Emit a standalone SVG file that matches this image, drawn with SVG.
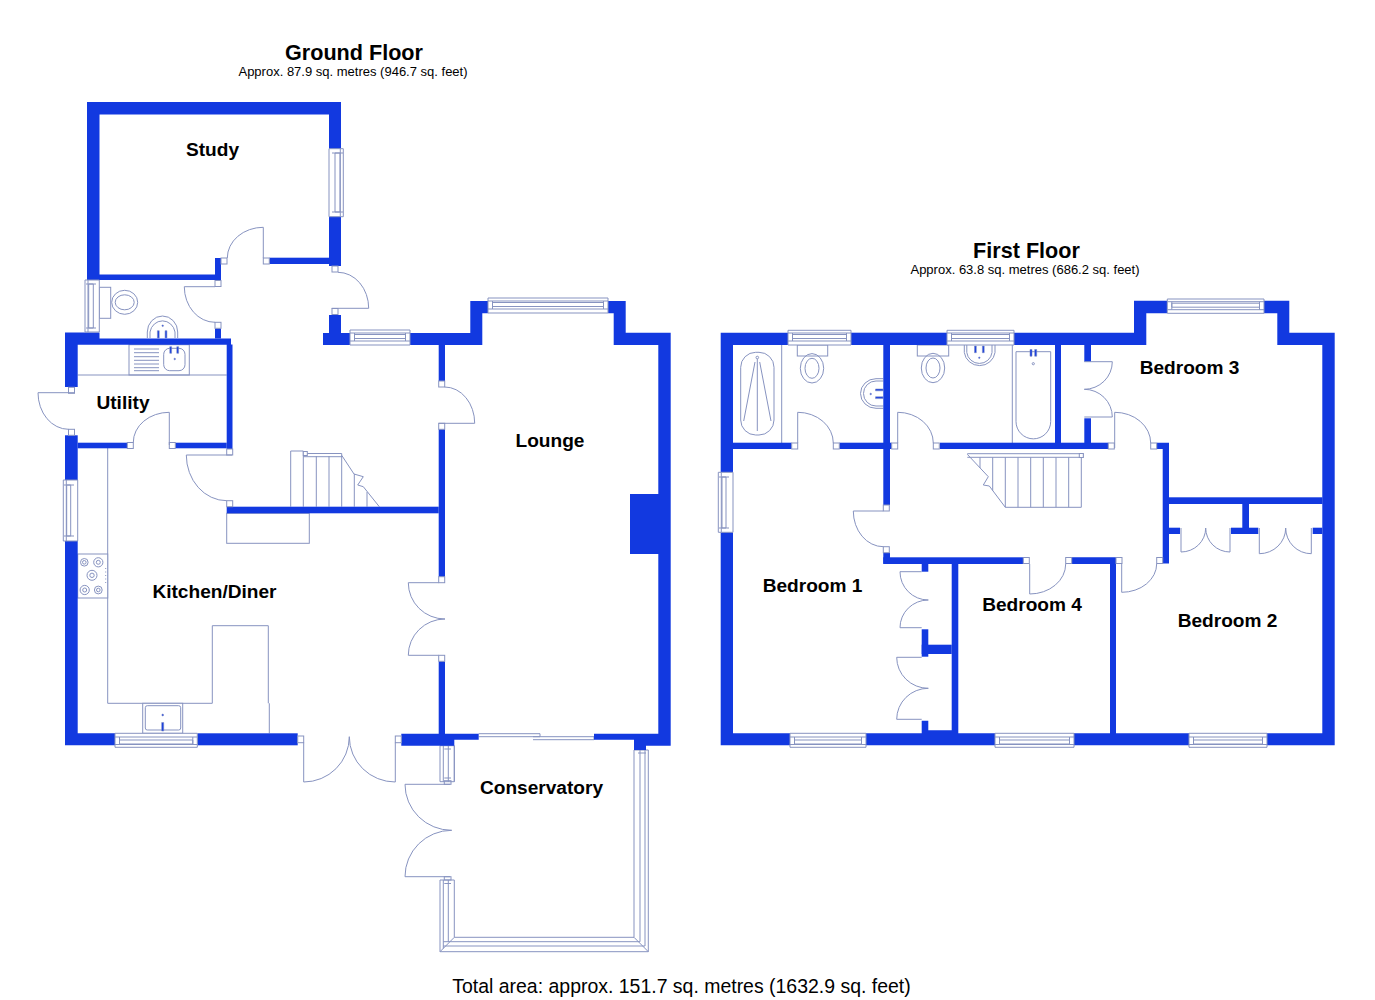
<svg xmlns="http://www.w3.org/2000/svg" width="1375" height="1000" viewBox="0 0 1375 1000">
<style>
.w{fill:#1239e0;stroke:none}
.l{fill:none;stroke:#8793c0;stroke-width:1}
.f{fill:#fff;stroke:#8793c0;stroke-width:1}
.t{fill:#1239e0;stroke:#7f8dc4;stroke-width:.6}
text{font-family:"Liberation Sans",Arial,sans-serif;fill:#000}
.r{font-size:19.1px;font-weight:bold;text-anchor:middle}
.h{font-size:21.6px;font-weight:bold;text-anchor:middle}
.s{font-size:13px;text-anchor:middle}
</style>
<rect width="1375" height="1000" fill="#fff"/>
<g id="ground-floor">
<g id="ground-fittings">
<path class="l" d="M107.7 448V703.3H212.3V625.7H268.3V703.3M269.3 703.3V733.3"/>
<rect class="f" x="77.7" y="554" width="30" height="44"/>
<g class="l"><circle cx="84.3" cy="562.3" r="3.8"/><circle cx="84.3" cy="562.3" r="1.8"/><circle cx="98.3" cy="562.3" r="4.6"/><circle cx="98.3" cy="562.3" r="2"/><circle cx="92" cy="575.3" r="5"/><circle cx="92" cy="575.3" r="2.2"/><circle cx="84.7" cy="590" r="4.6"/><circle cx="84.7" cy="590" r="2"/><circle cx="98.3" cy="590" r="3.9"/><circle cx="98.3" cy="590" r="1.8"/></g>
<path class="l" stroke-dasharray="1 2.5" d="M105.7 568V584"/>
<rect class="f" x="142.7" y="703.3" width="40" height="30"/>
<rect class="l" x="145.3" y="705.7" width="35.4" height="24.3" rx="2"/>
<circle class="t" cx="162.7" cy="715" r=".9"/>
<path class="t" d="M161.7 722.5H163.7V731H161.7Z"/>
<path class="l" d="M77.7 375H226.7"/>
<rect class="l" x="129" y="344.7" width="60.3" height="30.3"/>
<path class="l" d="M134 349H159M134 352.7H159M134 356.7H159M134 360.3H159M134 364H159M134 367.7H159M134 370.7H159"/>
<rect class="l" x="163.7" y="348.3" width="21.3" height="22.4" rx="6"/>
<path class="t" d="M169.8 346.7h1.8v6.6h-1.8zM176.8 346.7h1.8v6.6h-1.8z"/>
<circle class="t" cx="174.7" cy="359" r=".8"/>
<rect class="f" x="99.3" y="287.3" width="11.4" height="31"/>
<ellipse class="l" cx="124.7" cy="302.3" rx="13" ry="12"/>
<ellipse class="l" cx="124.7" cy="302.3" rx="9.5" ry="7.5"/>
<path class="l" d="M147.3 338V332A15.2 16 0 0 1 177.7 332V338M150 338V332A12.7 13.5 0 0 1 175 332V338"/>
<path class="t" d="M157.4 330.7h1.8v7.3h-1.8zM165.1 330.7h1.8v7.3h-1.8z"/>
<circle class="t" cx="162.7" cy="325.7" r=".8"/>
<path class="l" d="M290.7 506.7V451H303.3V506.7M316.3 456V506.7M329 456V506.7M341.7 456V506.7M354.3 474V506.7M367 492V506.7M303.3 453.5H341.7V456.7H303.3M341.7 455.3L354 474L363.3 476.7L357.7 485L363.3 486.7L379.3 506.7"/>
<rect class="f" x="303.3" y="451.5" width="4" height="4"/>
<rect class="l" x="226.7" y="513.3" width="82.6" height="30"/>
<path class="l" d="M454.3 745.7V781.7M440 745.7H454.3V781.7H440ZM443.3 745.7V781.7M448.3 745.7V781.7M444.3 749H451M444.3 778H451"/>
<rect class="l" x="444.3" y="780.7" width="6.7" height="3.6"/>
<rect class="l" x="444.3" y="876.7" width="6.7" height="3.3"/>
<path class="l" d="M440 880H454.3V937.3H634V750M648.3 750V951.7H440V880M443.3 880V948.5M448.3 880V942M444.3 883.5H451M634 750H648.3M640 750V941.7M645 750V946M443.3 941.7H640M443.3 946H645M440 951.7L454.3 937.3M648.3 951.7L634 937.3M638 753H646"/>
<path class="l" d="M478.7 733.7H540V736.7H478.7M533 736.7H594V739.7H533"/>
</g>
<g id="ground-walls">
<path class="w" d="M87 102H341V266H329V114.5H99.5V274.5H215V258H221V280H87Z"/>
<rect class="w" x="269.3" y="257.7" width="59.7" height="6.3"/>
<rect class="w" x="215" y="328.5" width="6" height="10"/>
<path class="w" d="M65 332.5H99.5V338.5H231V344.5H232.5V449H226.7V344.7H77.7V387H65Z"/>
<path class="w" d="M329 315H341V333H350V345H323V333H329Z"/>
<path class="w" d="M410 333H470.3V301H488.3V313.3H482.3V345H410Z"/>
<path class="w" d="M608 301H625.7V332.7H670.7V745.7H646V750H634V739.7H594V733.7H658.3V345H613.7V313.3H608Z"/>
<rect class="w" x="630" y="494" width="29" height="60"/>
<rect class="w" x="438.7" y="345" width="6.3" height="36"/>
<rect class="w" x="438.7" y="429" width="6.3" height="148"/>
<rect class="w" x="438.7" y="661.3" width="6.3" height="73"/>
<rect class="w" x="226.7" y="506.7" width="212" height="6.6"/>
<rect class="w" x="65" y="435.3" width="12.7" height="44.7"/>
<rect class="w" x="77.7" y="442.7" width="49.6" height="5.6"/>
<rect class="w" x="175.3" y="442.7" width="51.4" height="5.6"/>
<path class="w" d="M65 541H77.7V733.3H115V745.3H65Z"/>
<rect class="w" x="197.3" y="733.3" width="100.4" height="12"/>
<path class="w" d="M401.3 733.7H478.7V739.7H454.3V745.7H401.3Z"/>
</g>
<g id="ground-jambs" class="f">
<rect x="221" y="258" width="6" height="6"/><rect x="263.3" y="258" width="6" height="6"/><rect x="215" y="280.5" width="6" height="6"/><rect x="215" y="322.3" width="6" height="6"/><rect x="332" y="266" width="6" height="6"/><rect x="332" y="308.5" width="6" height="6"/><rect x="68.5" y="387.3" width="6" height="6"/><rect x="68.5" y="429.3" width="6" height="6"/><rect x="127.3" y="442.5" width="6" height="6"/><rect x="169.3" y="442.5" width="6" height="6"/><rect x="226.7" y="449" width="6" height="6"/><rect x="226.7" y="500.7" width="6" height="6"/><rect x="438.7" y="381" width="6" height="6"/><rect x="438.7" y="423.3" width="6" height="6"/><rect x="438.7" y="576.7" width="6" height="6"/><rect x="438.7" y="655.3" width="6" height="6"/><rect x="297.7" y="736" width="6" height="6.7"/><rect x="395.3" y="736" width="6" height="6.7"/>
</g>
<g id="ground-doors" class="l">
<path d="M263.3 258V227.3A36 30.7 0 0 0 227.3 258"/>
<path d="M215 286.7H184.3A30.7 35.6 0 0 0 215 322.3"/>
<path d="M331.7 308.3H368.7A30.7 36 0 0 0 338 272.3"/>
<path d="M438.7 423.3H474.7A30 36.3 0 0 0 444.7 387"/>
<path d="M74.5 392.7H38A30.5 36.6 0 0 0 68.5 429.3"/>
<path d="M169.3 445V412.3A36 30 0 0 0 133.3 442.5"/>
<path d="M232 455H186.3A40.4 45.7 0 0 0 226.7 500.7"/>
<path d="M438.7 582.7H408.3A36.7 36.3 0 0 0 445 619A36.7 36.3 0 0 0 408.3 655.3H438.7"/>
<path d="M303.7 742.7V782A45.6 45.3 0 0 0 349.3 736.7A46 45.3 0 0 0 395.3 782V742.7"/>
<path d="M450 784.3H405A46.7 46 0 0 0 451.7 830.3A46.7 46.3 0 0 0 405 876.7H450"/>
</g>
<g id="ground-windows" class="f">
<path d="M329 148.7H343.3V216.7H329ZM340.3 148.7V216.7M335 153H340V212H335ZM332 153H343M332 212H343"/>
<path d="M85 280H99.3V332H85ZM88 280V332M88.7 284H93.3V328H88.7ZM86 284H96M86 328H96"/>
<path d="M63.3 480H77.7V541H63.3ZM66.3 480V541M66.7 485H70.7V536H66.7ZM64 485H74M64 536H74"/>
<path d="M488 298H608V313H488ZM488 301H608M492.5 302.5H603.5V306.5H492.5ZM492.5 301V309M603.5 301V309M488 309H608"/>
<path d="M350 330H410V345H350ZM350 333H410M354.5 334.5H405.5V338.5H354.5ZM354.5 333V341M405.5 333V341M350 341H410"/>
<path d="M115 733.3H197.3V747.3H115ZM115 744.5H197.3M119.5 740H192.8V744H119.5ZM119.5 737V745M192.8 737V745M115 737H197.3"/>
</g>
</g>
<g id="first-floor">
<g id="first-fittings">
<path class="l" d="M781.7 345V443"/>
<rect class="l" x="740.7" y="352.3" width="33.3" height="82.7" rx="15" ry="15"/>
<circle class="l" cx="757.3" cy="357.5" r="1.3"/>
<path class="l" d="M757.3 359V431M755 362L743.7 421M759.7 362L771 421"/>
<rect class="f" x="797.3" y="345" width="30.4" height="11"/>
<ellipse class="l" cx="812" cy="368.3" rx="11.7" ry="14.7"/>
<ellipse class="l" cx="812" cy="368.3" rx="7" ry="10"/>
<path class="l" d="M883.3 378.7H876A15.5 14.8 0 0 0 876 408.3H883.3M883.3 381H876A12.5 12.5 0 0 0 876 406H883.3"/>
<path class="t" d="M875.5 389h7.5v1.8h-7.5zM875.5 396.8h7.5v1.8h-7.5z"/>
<circle class="t" cx="870.7" cy="394" r=".8"/>
<rect class="f" x="917.3" y="345" width="31.4" height="11"/>
<ellipse class="l" cx="933" cy="368" rx="11.7" ry="14.7"/>
<ellipse class="l" cx="933" cy="368" rx="7" ry="10"/>
<path class="l" d="M964.3 345V352.5A15.5 15.2 0 0 0 995 352.5V345M966.8 345V352.5A12.7 12.5 0 0 0 992 352.5V345"/>
<path class="t" d="M974.5 346h1.8v6.7h-1.8zM982.4 346h1.8v6.7h-1.8z"/>
<circle class="t" cx="979.3" cy="357.7" r=".8"/>
<path class="l" d="M1012.3 345V443"/>
<path class="l" d="M1016 351.7H1050.7V421.5A17.3 17.3 0 0 1 1016 421.5Z"/>
<path class="t" d="M1030 349.5h2v6.7h-2zM1034.7 349.5h2v6.7h-2z"/>
<circle class="l" cx="1033.3" cy="363.7" r="1.1"/>
<path class="l" d="M1005.3 507.3H1081.3V457.3M967.3 453.7H1083.3V457.3H967.3M967.3 454.3L988.3 476.7L983.3 485L989.3 486L1005.3 507.3M980 457.3V468M992.7 457.3V490.5M1005.3 457.3V507.3M1018 457.3V507.3M1030.7 457.3V507.3M1043.3 457.3V507.3M1056 457.3V507.3M1068.7 457.3V507.3"/>
<rect class="f" x="1079.3" y="453.5" width="4" height="4"/>
</g>
<g id="first-walls">
<path class="w" d="M720.7 332.7H788V345H733V472.3H720.7Z"/>
<rect class="w" x="851" y="332.7" width="96" height="12.3"/>
<path class="w" d="M1014 332.7H1134V300.7H1167.3V313.3H1146.3V345H1014Z"/>
<path class="w" d="M1264 300.7H1289.3V332.7H1334.7V745.3H1267V733.3H1322.3V345H1277.3V313.3H1264Z"/>
<path class="w" d="M720.7 532.3H733V733.3H790V745.3H720.7Z"/>
<path class="w" d="M866 733.3H921.7V720.7H928.3V730.3H951.7V564H958.3V733.3H995V745.3H866Z"/>
<path class="w" d="M1074 733.3H1110V564H1072V557.3H1116V733.3H1189V745.3H1074Z"/>
<rect class="w" x="883.3" y="552.7" width="6.7" height="11"/>
<rect class="w" x="883.3" y="557.3" width="140" height="6.7"/>
<rect class="w" x="921.7" y="564" width="6.6" height="7.7"/>
<rect class="w" x="921.7" y="629.3" width="6.6" height="27.4"/>
<rect class="w" x="921.7" y="644.7" width="30" height="9.3"/>
<rect class="w" x="733" y="442.7" width="58.7" height="6.3"/>
<rect class="w" x="839.3" y="442.7" width="52.4" height="6.3"/>
<rect class="w" x="883.3" y="345" width="6.7" height="160"/>
<rect class="w" x="940" y="442.7" width="168.3" height="6.3"/>
<rect class="w" x="1055" y="345" width="6" height="98"/>
<rect class="w" x="1084.3" y="345" width="6.7" height="16.7"/>
<rect class="w" x="1084.3" y="418.3" width="6.7" height="25"/>
<path class="w" d="M1157 442.7H1169V563.5H1162.7V449H1157Z"/>
<rect class="w" x="1169" y="497.3" width="153.5" height="6.7"/>
<rect class="w" x="1242.3" y="504" width="6.7" height="24"/>
<rect class="w" x="1231" y="527.7" width="27.3" height="6.3"/>
<rect class="w" x="1169" y="527.7" width="11" height="6.3"/>
<rect class="w" x="1312.7" y="527.7" width="9.6" height="6.3"/>
</g>
<g id="first-jambs" class="f">
<rect x="791.7" y="443" width="6" height="6"/><rect x="833.3" y="443" width="6" height="6"/><rect x="891.7" y="443" width="6" height="6"/><rect x="933.3" y="443" width="6" height="6"/><rect x="1108.3" y="443" width="6" height="6"/><rect x="1150.7" y="443" width="6" height="6"/><rect x="883.3" y="505" width="6" height="6"/><rect x="883.3" y="546.7" width="6" height="6"/><rect x="1023.3" y="557.5" width="6" height="6"/><rect x="1065.7" y="557.5" width="6" height="6"/><rect x="1116" y="557.5" width="6" height="6"/><rect x="1156.7" y="557.5" width="6" height="6"/>
</g>
<g id="first-doors" class="l">
<path d="M797.7 443V412.3A35.6 30.7 0 0 1 833.3 443"/>
<path d="M897.7 443V412.3A35.6 30.7 0 0 1 933.3 443"/>
<path d="M1114.7 448V412.3A36 30.7 0 0 1 1150.7 443"/>
<path d="M883.3 511H853.3A30 35.7 0 0 0 883.3 546.7"/>
<path d="M1084.3 361.7H1112.3A28 27.6 0 0 1 1084.3 389.3A28 27.7 0 0 1 1112.3 417H1084.3"/>
<path d="M1121.7 563.7V592.3A35 28.6 0 0 0 1156.7 563.7"/>
<path d="M1029.7 564V594A36 30 0 0 0 1065.7 564"/>
<path d="M1181 528V552A24.7 24 0 0 0 1205.7 528A24.3 24 0 0 0 1230 552V528"/>
<path d="M1259.3 528V553.7A26.4 25.7 0 0 0 1285.7 528A25.6 25.7 0 0 0 1311.3 553.7V528"/>
<path d="M921.7 571.7H900A28.3 28.3 0 0 0 928.3 600A28.3 27.7 0 0 0 900 627.7H921.7"/>
<path d="M921.7 657.3H896.7A31.6 31 0 0 0 928.3 688.3A31.6 31 0 0 0 896.7 719.3H921.7"/>
</g>
<g id="first-windows" class="f">
<path d="M718.3 472.3H733V532.3H718.3ZM721.3 472.3V532.3M722 477H726V528H722ZM719 477H729M719 528H729"/>
<path d="M788 330.3H851V345H788ZM788 333H851M792.5 334.5H846.5V338.5H792.5ZM792.5 333V341M846.5 333V341M788 341H851"/>
<path d="M947 330.3H1014V345H947ZM947 333H1014M951.5 334.5H1009.5V338.5H951.5ZM951.5 333V341M1009.5 333V341M947 341H1014"/>
<path d="M1167.3 299H1264V313.3H1167.3ZM1167.3 301.7H1264M1171.8 303.2H1259.5V307.2H1171.8ZM1171.8 301.7V309.7M1259.5 301.7V309.7M1167.3 309.7H1264"/>
<path d="M790 733.3H866V747.3H790ZM790 744.5H866M794.5 740H861.5V744H794.5ZM794.5 737V745M861.5 737V745M790 737H866"/>
<path d="M995 733.3H1074V747.3H995ZM995 744.5H1074M999.5 740H1069.5V744H999.5ZM999.5 737V745M1069.5 737V745M995 737H1074"/>
<path d="M1189 733.3H1267V747.3H1189ZM1189 744.5H1267M1193.5 740H1262.5V744H1193.5ZM1193.5 737V745M1262.5 737V745M1189 737H1267"/>
</g>
</g>
<g id="labels">
<text class="h" x="354" y="59.5">Ground Floor</text>
<text class="s" x="353" y="76">Approx. 87.9 sq. metres (946.7 sq. feet)</text>
<text class="h" x="1026.5" y="257.5">First Floor</text>
<text class="s" x="1025" y="274">Approx. 63.8 sq. metres (686.2 sq. feet)</text>
<text class="r" x="212.5" y="155.7">Study</text>
<text class="r" x="123" y="409">Utility</text>
<text class="r" x="214.5" y="598">Kitchen/Diner</text>
<text class="r" x="550" y="447.3">Lounge</text>
<text class="r" x="541.5" y="794">Conservatory</text>
<text class="r" x="1189.5" y="374.3">Bedroom 3</text>
<text class="r" x="812.5" y="591.7">Bedroom 1</text>
<text class="r" x="1032" y="611">Bedroom 4</text>
<text class="r" x="1227.5" y="627">Bedroom 2</text>
<text x="681.5" y="993" font-size="19.47" text-anchor="middle">Total area: approx. 151.7 sq. metres (1632.9 sq. feet)</text>
</g>
</svg>
